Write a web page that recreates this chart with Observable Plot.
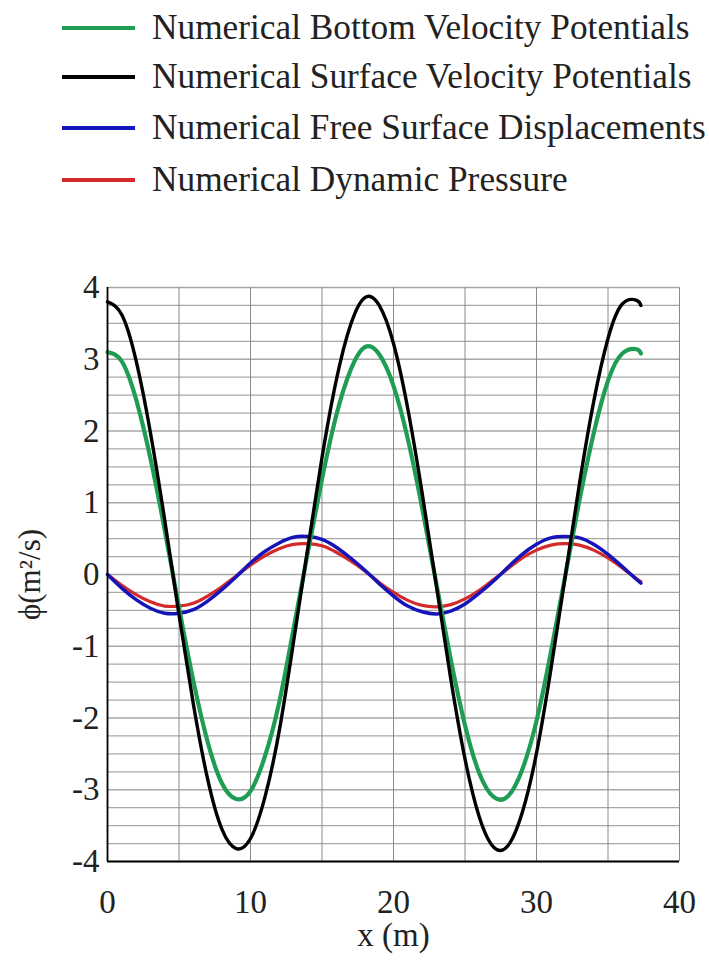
<!DOCTYPE html>
<html>
<head>
<meta charset="utf-8">
<script src="https://cdn.jsdelivr.net/npm/d3@7"></script>
<script src="https://cdn.jsdelivr.net/npm/@observablehq/plot@0.6"></script>
<style>
  html, body { margin: 0; padding: 0; background: #fff; }
  #wrap { width: 709px; height: 963px; position: relative; overflow: hidden; }
  #legend { position: relative; width: 709px; height: 250px; font-family: 'Liberation Serif', 'Times New Roman', serif; color: #222; }
  .row { position: absolute; left: 0; height: 40px; width: 709px; }
  .sw { position: absolute; left: 62px; width: 73px; height: 4px; top: 18px; }
  .lbl { position: absolute; left: 152px; top: 0; font-size: 35.3px; line-height: 40px; white-space: nowrap; }
</style>
</head>
<body>
<div id="wrap">
  <div id="legend"></div>
  <div id="chart"></div>
</div>
<script>
// ---- data ----
const xs = [0,1,2,3,4,5,6,7,8,9,10,11,12,13,14,15,16,17,18,19,20,21,22,23,24,25,26,27,28,29,30,31,32,33,34,35,36,37,37.3];

const bottomVP = [3.10,2.97,2.44,1.62,0.62,-0.46,-1.48,-2.33,-2.91,-3.13,-3.02,-2.54,-1.79,-0.77,0.30,1.33,2.22,2.85,3.17,3.07,2.63,1.89,0.93,-0.13,-1.18,-2.10,-2.77,-3.10,-3.09,-2.72,-2.04,-1.09,-0.03,1.03,1.97,2.70,3.08,3.14,3.08];

const surfaceVP = [3.80,3.62,2.98,1.98,0.76,-0.56,-1.80,-2.85,-3.55,-3.82,-3.68,-3.11,-2.19,-0.95,0.36,1.63,2.71,3.48,3.86,3.75,3.22,2.31,1.14,-0.16,-1.45,-2.57,-3.38,-3.80,-3.78,-3.32,-2.49,-1.33,-0.04,1.26,2.41,3.29,3.77,3.82,3.75];

const freeSurface = [0,-0.19,-0.35,-0.47,-0.54,-0.54,-0.49,-0.37,-0.21,-0.03,0.16,0.32,0.44,0.52,0.53,0.49,0.38,0.23,0.06,-0.13,-0.30,-0.44,-0.52,-0.55,-0.51,-0.41,-0.26,-0.09,0.10,0.28,0.42,0.51,0.53,0.51,0.42,0.28,0.11,-0.07,-0.12];

const dynPressure = [0,-0.15,-0.28,-0.38,-0.44,-0.44,-0.40,-0.30,-0.17,-0.02,0.13,0.26,0.36,0.42,0.43,0.40,0.31,0.19,0.05,-0.11,-0.25,-0.36,-0.43,-0.45,-0.42,-0.34,-0.22,-0.07,0.08,0.23,0.34,0.41,0.43,0.41,0.34,0.23,0.09,-0.06,-0.10];

const seriesNames = [
  "Numerical Bottom Velocity Potentials",
  "Numerical Surface Velocity Potentials",
  "Numerical Free Surface Displacements",
  "Numerical Dynamic Pressure"
];
const seriesColors = ["#1f9d55", "#000000", "#1414b8", "#d42a2a"];

const xTicks = [0, 10, 20, 30, 40];
const yTicks = [-4, -3, -2, -1, 0, 1, 2, 3, 4];
const xLabel = "x (m)";
const yLabel = "ϕ(m²/s)";

// ---- legend ----
const legend = document.getElementById("legend");
const rowCenters = [28, 77, 128, 180];
seriesNames.forEach((name, i) => {
  const row = document.createElement("div");
  row.className = "row";
  row.style.top = (rowCenters[i] - 20) + "px";
  const sw = document.createElement("div");
  sw.className = "sw";
  sw.style.background = seriesColors[i];
  const lb = document.createElement("div");
  lb.className = "lbl";
  lb.textContent = name;
  row.appendChild(sw);
  row.appendChild(lb);
  legend.appendChild(row);
});

// ---- chart ----
const mk = arr => xs.map((x, i) => ({x, y: arr[i]}));
const dGreen = mk(bottomVP), dBlack = mk(surfaceVP), dBlue = mk(freeSurface), dRed = mk(dynPressure);
const fmt = d => (d < 0 ? "-" + Math.abs(d) : String(d));

const chart = Plot.plot({
  width: 709,
  height: 713,
  marginTop: 37,
  marginBottom: 102,
  marginLeft: 107,
  marginRight: 30,
  x: {domain: [0, 40]},
  y: {domain: [-4, 4]},
  style: {fontFamily: "'Liberation Serif', 'Times New Roman', serif", fontSize: "33px", color: "#222", background: "#fff"},
  marks: [
    Plot.gridY(d3.range(-4, 4.001, 0.25), {stroke: "#a8a8a8", strokeOpacity: 1, strokeWidth: 1.3}),
    Plot.gridX(d3.range(5, 40.001, 5), {stroke: "#8a8a8a", strokeOpacity: 1, strokeWidth: 1}),
    Plot.line(dRed, {x: "x", y: "y", stroke: seriesColors[3], strokeWidth: 3.2, curve: "natural"}),
    Plot.line(dBlue, {x: "x", y: "y", stroke: seriesColors[2], strokeWidth: 3.5, curve: "natural"}),
    Plot.line(dGreen, {x: "x", y: "y", stroke: seriesColors[0], strokeWidth: 4.2, curve: "natural"}),
    Plot.line(dBlack, {x: "x", y: "y", stroke: seriesColors[1], strokeWidth: 3.4, curve: "natural"}),
    Plot.ruleX([0], {stroke: "#000", strokeWidth: 1.8}),
    Plot.ruleY([-4], {stroke: "#000", strokeWidth: 1.8}),
    Plot.axisX(xTicks, {tickSize: 0, tickPadding: 28, fontSize: 33, label: null, tickFormat: fmt}),
    Plot.axisY(yTicks, {tickSize: 0, tickPadding: 8, fontSize: 33, label: null, tickFormat: fmt}),
    Plot.text([xLabel], {frameAnchor: "bottom", dy: 74, lineAnchor: "middle", textAnchor: "middle", fontSize: 33}),
    Plot.text([yLabel], {frameAnchor: "left", dx: -77, rotate: -90, lineAnchor: "middle", textAnchor: "middle", fontSize: 31})
  ]
});
document.getElementById("chart").appendChild(chart);
</script>
</body>
</html>
